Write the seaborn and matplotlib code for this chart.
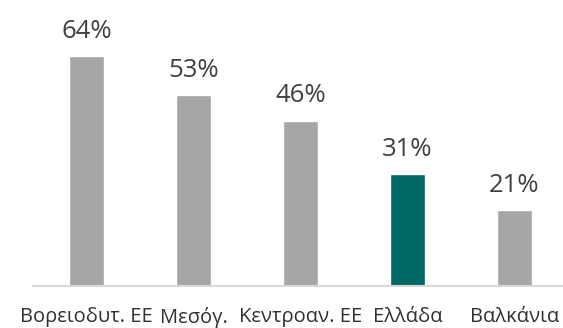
import matplotlib
matplotlib.use("Agg")
import matplotlib.pyplot as plt
import seaborn as sns
import pandas as pd

categories = ["Βορειοδυτ. ΕΕ", "Μεσόγ.", "Κεντροαν. ΕΕ", "Ελλάδα", "Βαλκάνια"]
values = [64, 53, 46, 31, 21]
value_labels = ["64%", "53%", "46%", "31%", "21%"]
highlight = "Ελλάδα"

sns.set_theme(style="white")
plt.rcParams["font.family"] = ["Open Sans", "DejaVu Sans"]

df = pd.DataFrame({"region": categories, "share": values})
palette = {c: ("#006864" if c == highlight else "#A6A6A6") for c in categories}

fig = plt.figure(figsize=(5.63, 3.28), dpi=100)
ax = fig.add_axes([33 / 563, 42 / 328, 535 / 563, 286 / 328])

sns.barplot(data=df, x="region", y="share", hue="region", palette=palette,
            width=0.32, legend=False, ax=ax, saturation=1)

ax.set_xlim(-0.5, 4.5)
ax.set_ylim(0, 79.5)

for patch, lab in zip(ax.patches, value_labels):
    ax.annotate(lab, (patch.get_x() + patch.get_width() / 2, patch.get_height()),
                xytext=(0, 13), textcoords="offset points",
                ha="center", va="baseline", fontsize=18.5, color="#404040")

for s in ["top", "right", "left"]:
    ax.spines[s].set_visible(False)
ax.spines["bottom"].set_color("#D9D9D9")
ax.spines["bottom"].set_linewidth(1.5)
ax.set_yticks([])
ax.set_xlabel("")
ax.set_ylabel("")
ax.tick_params(axis="x", length=0, pad=15, labelsize=14.5, labelcolor="#303030")

fig.savefig("out.png", dpi=100)
